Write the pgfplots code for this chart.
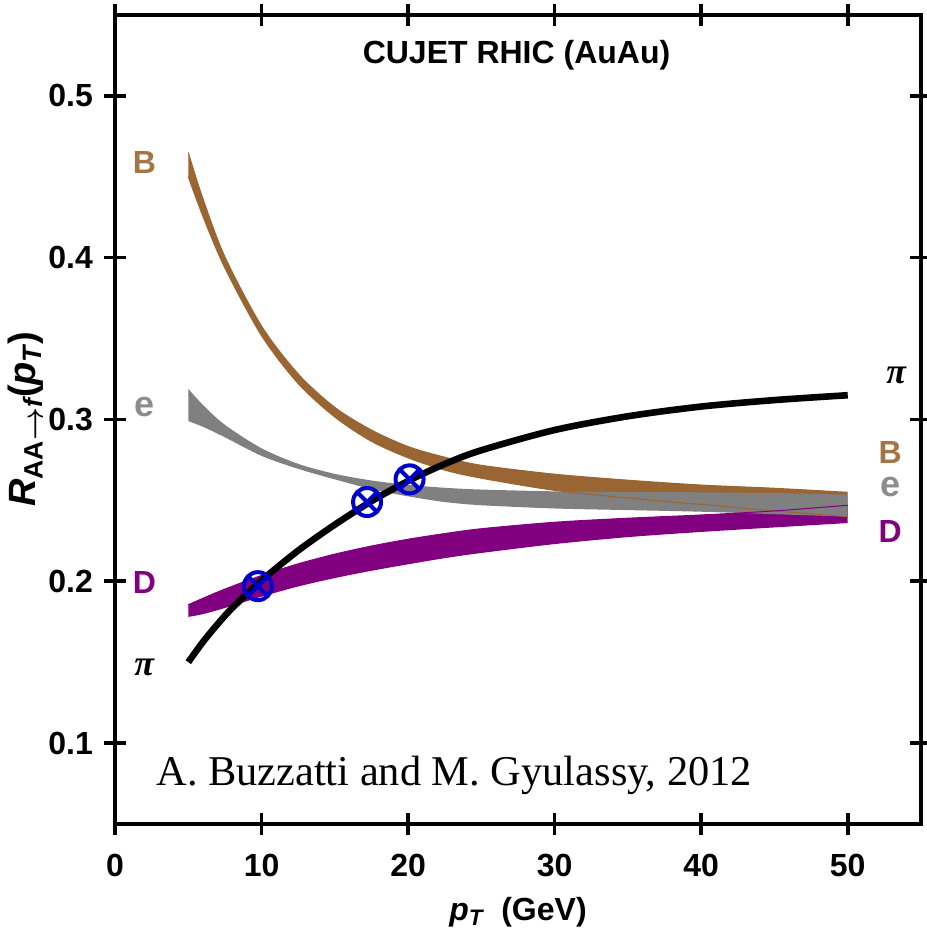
\documentclass[border=0pt]{standalone}
\usepackage{amsmath}
\usepackage{pgfplots}
\pgfplotsset{compat=1.18}
\usepackage{pgfplotstable}
\usepgfplotslibrary{fillbetween}
\usetikzlibrary{plotmarks}
\usepackage{fontspec}
\setmainfont{Liberation Sans}
\newfontfamily\timesfont{Liberation Serif}

\definecolor{bcol}{RGB}{153,102,51}
\definecolor{ecol}{RGB}{128,128,128}
\definecolor{dcol}{RGB}{128,0,128}
\definecolor{ocol}{RGB}{0,0,204}

% bands: lower/upper edge of B, e, D
\pgfplotstableread{
x    Bl     Bu     el     eu     Dl     Du
5    0.450  0.465  0.299  0.319  0.178  0.1855
6    0.4255 0.4365 0.2955 0.309  0.1797 0.1895
7.5  0.3936 0.4006 0.289  0.2967 0.1835 0.1952
10   0.3518 0.3578 0.2775 0.2822 0.1905 0.2036
12.5 0.3222 0.3282 0.2695 0.2726 0.1968 0.2108
15   0.3015 0.3075 0.263  0.2664 0.2020 0.2168
17.5 0.2865 0.2935 0.257  0.2623 0.2065 0.2218
20   0.2763 0.2833 0.2525 0.2596 0.2105 0.2260
22.5 0.2687 0.2767 0.249  0.2578 0.2143 0.2295
25   0.2637 0.2717 0.247  0.2567 0.2175 0.2325
30   0.2562 0.2662 0.245  0.2556 0.2230 0.2365
35   0.2515 0.2625 0.244  0.2552 0.2273 0.2390
40   0.2475 0.2595 0.243  0.2550 0.2305 0.2410
45   0.2435 0.2575 0.2415 0.2545 0.2333 0.2435
50   0.240  0.255  0.240  0.2535 0.2360 0.2470
}\bands

\pgfplotstableread{
x    pi
5    0.150
6    0.1625
7    0.1735
8    0.1835
10   0.2005
12.5 0.219
15   0.235
17.5 0.2495
20   0.262
22.5 0.2725
25   0.281
30   0.2935
35   0.302
40   0.308
45   0.312
50   0.315
}\pion

\begin{document}
\begin{tikzpicture}
\begin{axis}[
  scale only axis, width=403pt, height=404.5pt,
  at={(0,0)}, anchor=south west,
  xmin=0, xmax=55, ymin=0.05, ymax=0.55,
  xtick={0,10,20,30,40,50}, ytick={0.1,0.2,0.3,0.4,0.5},
  tick align=center, major tick length=11pt,
  every tick/.style={black, line width=1.8pt},
  axis line style={line width=2pt},
  /pgf/number format/assume math mode=true,
  ticklabel style={font=\fontsize{16}{18}\selectfont\bfseries},
  xticklabel style={yshift=-6pt},
  yticklabel style={xshift=-2pt},
  xlabel={{\itshape p}\textsubscript{\itshape T}\ \ (GeV)},
  ylabel={{\itshape R}\textsubscript{AA$\boldsymbol{\rightarrow}$\itshape f}({\itshape p}\textsubscript{\itshape T})},
  label style={font=\fontsize{16}{18}\selectfont\bfseries},
  xlabel style={at={(axis description cs:0.5,0)}, anchor=center, yshift=-44pt},
  ylabel style={at={(axis description cs:-0.111,0.5)}, anchor=center,
                font=\fontsize{19}{22}\selectfont\bfseries},
]
\addplot[name path=Bu, draw=none, smooth] table[x=x,y=Bu]{\bands};
\addplot[name path=Bl, draw=none, smooth] table[x=x,y=Bl]{\bands};
\addplot[fill=bcol, draw=none] fill between[of=Bu and Bl];
\addplot[name path=Du, draw=none, smooth] table[x=x,y=Du]{\bands};
\addplot[name path=Dl, draw=none, smooth] table[x=x,y=Dl]{\bands};
\addplot[fill=dcol, draw=none] fill between[of=Du and Dl];
\addplot[name path=eu, draw=none, smooth] table[x=x,y=eu]{\bands};
\addplot[name path=el, draw=none, smooth] table[x=x,y=el]{\bands};
\addplot[fill=ecol, draw=none] fill between[of=eu and el];
% thin band edges that stay visible over the grey band
\addplot[bcol, line width=0.5pt, smooth] table[x=x,y=Bl]{\bands};
\addplot[bcol, line width=0.5pt, smooth] table[x=x,y=Bu]{\bands};
\addplot[dcol, line width=0.5pt, smooth] table[x=x,y=Du]{\bands};
% pion curve
\addplot[black, line width=3.3pt, smooth] table[x=x,y=pi]{\pion};
% data points
\addplot[only marks, mark=otimes, mark size=7pt, ocol, line width=2pt]
  coordinates {(9.75,0.197) (17.2,0.249) (20.1,0.263)};

\node[font=\fontsize{16}{18}\selectfont\bfseries] at (axis cs:27.4,0.525) {CUJET RHIC (AuAu)};
\node[font=\fontsize{21.2}{24}\selectfont\timesfont, anchor=west, inner sep=0pt] at (axis cs:2.8,0.080) {A. Buzzatti and M. Gyulassy, 2012};

\node[font=\fontsize{16}{18}\selectfont\bfseries, text=bcol!90!white] at (axis cs:2.0,0.459) {B};
\node[font=\fontsize{18}{20}\selectfont\bfseries, text=ecol!90!white] at (axis cs:2.0,0.308) {e};
\node[font=\fontsize{16}{18}\selectfont\bfseries, text=dcol] at (axis cs:2.0,0.199) {D};
\node[font=\fontsize{18}{20}\selectfont\timesfont\bfseries\itshape] at (axis cs:2.0,0.147) {π};

\node[font=\fontsize{18}{20}\selectfont\timesfont\bfseries\itshape] at (axis cs:53.3,0.327) {π};
\node[font=\fontsize{16}{18}\selectfont\bfseries, text=bcol!90!white] at (axis cs:52.9,0.2796) {B};
\node[font=\fontsize{18}{20}\selectfont\bfseries, text=ecol!90!white] at (axis cs:52.9,0.2585) {e};
\node[font=\fontsize{16}{18}\selectfont\bfseries, text=dcol] at (axis cs:52.9,0.2307) {D};
\end{axis}
\pgfresetboundingbox
\path[use as bounding box] (-57.5pt,-53.5pt) rectangle (405.5pt,412pt);
\end{tikzpicture}
\end{document}
